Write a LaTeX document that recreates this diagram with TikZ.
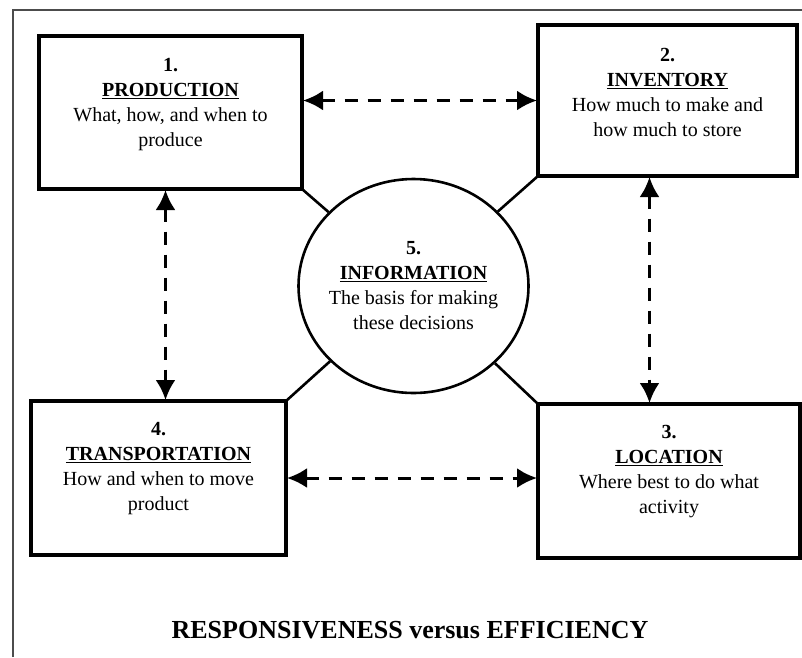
\documentclass[tikz,border=0pt]{standalone}
\usepackage{fontspec}
\setmainfont{Liberation Serif}
\usetikzlibrary{arrows.meta,shapes.geometric}

\tikzset{
  driver/.style={draw,line width=3.4pt,outer sep=0pt,inner sep=0pt},
  drivertext/.style={anchor=north,inner sep=0pt,align=center,font=\fontsize{20}{25}\selectfont},
  link/.style={line width=3pt,dash pattern=on 13pt off 10pt,{Latex[length=20pt,width=20pt]}-{Latex[length=20pt,width=20pt]},shorten <=1pt,shorten >=1pt},
  spoke/.style={line width=2.6pt}
}

\begin{document}
\begin{tikzpicture}[x=1pt,y=-1pt]
\useasboundingbox (0,0) rectangle (802,657);
\draw[line width=1.8pt,black!70] (13,657) -- (13,10) -- (802,10);

% the four drivers
\node[driver,minimum width=263pt,minimum height=153pt] (prod) at (170.5,112.5) {};
\node[driver,minimum width=259pt,minimum height=151pt] (inv) at (667.5,100.5) {};
\node[driver,minimum width=262pt,minimum height=154pt] (loc) at (669,481) {};
\node[driver,minimum width=255pt,minimum height=154pt] (trans) at (158.5,478) {};

\node[drivertext] (prodtext) at ([yshift=-22pt]prod.north) {\textbf{1.}\\\textbf{\underline{PRODUCTION}}\\What, how, and when to\\produce};
\node[drivertext] (invtext) at ([yshift=-23pt]inv.north) {\textbf{2.}\\\textbf{\underline{INVENTORY}}\\How much to make and\\how much to store};
\node[drivertext] (loctext) at ([yshift=-21pt]loc.north) {\textbf{3.}\\\textbf{\underline{LOCATION}}\\Where best to do what\\activity};
\node[drivertext] (transtext) at ([yshift=-21pt]trans.north) {\textbf{4.}\\\textbf{\underline{TRANSPORTATION}}\\How and when to move\\product};

% information in the middle
\node[draw,ellipse,line width=2.6pt,minimum width=230pt,minimum height=214pt,inner sep=0pt] (info) at (413.5,286) {};
\node[drivertext,anchor=center] (infotext) at (info) {\textbf{5.}\\\textbf{\underline{INFORMATION}}\\The basis for making\\these decisions};

\draw[spoke] (prod.south east) -- (info);
\draw[spoke] (inv.south west) -- (info);
\draw[spoke] (loc.north west) -- (info);
\draw[spoke] (trans.north east) -- (info);

% dashed links between drivers
\draw[link] (prod.east |- inv.west) -- (inv.west);
\draw[link] (trans.east) -- (trans.east -| loc.west);
\draw[link] ([xshift=-5pt]prod.south) -- ([xshift=-5pt]prod.south |- trans.north);
\draw[link] ([xshift=-18pt]inv.south) -- ([xshift=-18pt]inv.south |- loc.north);

\node[anchor=base,font=\fontsize{26}{30}\selectfont\bfseries] (tradeoff) at (410,638) {RESPONSIVENESS versus EFFICIENCY};
\end{tikzpicture}
\end{document}
